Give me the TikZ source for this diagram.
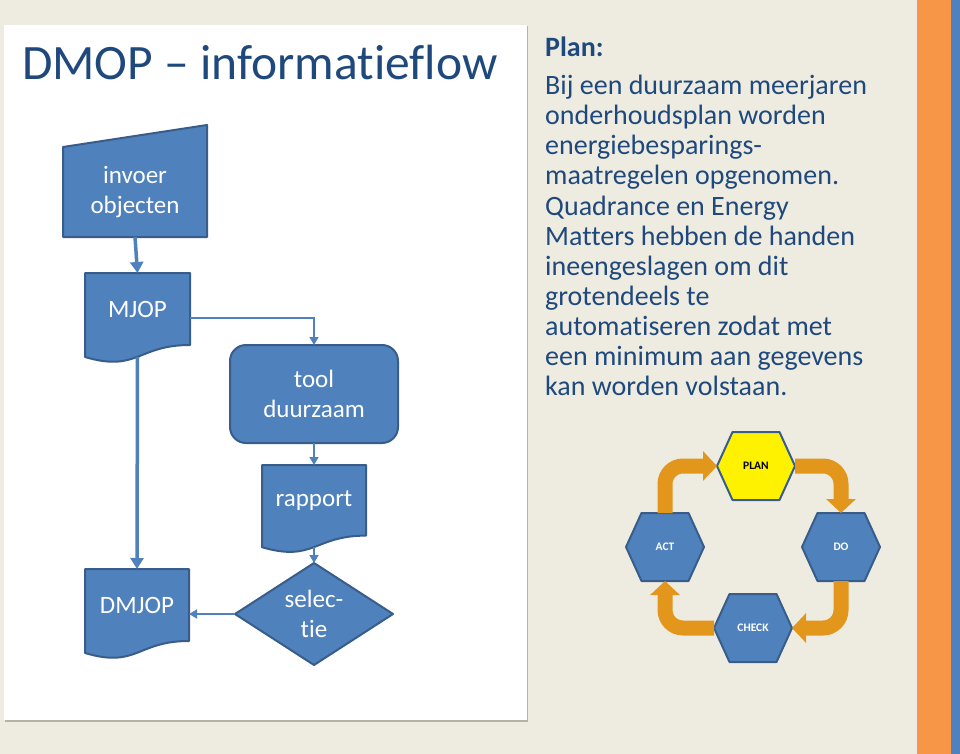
\documentclass[tikz,border=0pt]{standalone}
\usepackage{fontspec}
\setmainfont{Carlito}[Ligatures={NoCommon}]
\usetikzlibrary{arrows.meta,backgrounds,calc}
\definecolor{bgc}{HTML}{EEECE1}
\definecolor{tblue}{HTML}{1F497D}
\definecolor{fblue}{HTML}{4F81BD}
\definecolor{dblue}{HTML}{385D8A}
\definecolor{orng}{HTML}{E3961C}
\definecolor{strip}{HTML}{F79646}
\definecolor{shadowc}{HTML}{B5B2A8}
\newcommand\docshape[3]{\path[shp] (#1.north west) -- (#1.north east) -- (#1.south east) .. controls (#1.south) and ([yshift=-#2]#1.south) .. ([yshift=-#3]#1.south west) -- cycle;}
\newcommand\hexshape[2]{\path[#2] (#1.west) -- ([xshift=-23.5pt]#1.north) -- ([xshift=23.5pt]#1.north) -- (#1.east) -- ([xshift=23.5pt]#1.south) -- ([xshift=-23.5pt]#1.south) -- cycle;}
\begin{document}
\begin{tikzpicture}[x=1pt,y=-1pt,
  shp/.style={fill=fblue,draw=dblue,line width=2pt,line join=round},
  ftxt/.style={text=white,font=\fontsize{25}{30}\selectfont,align=center,inner sep=0pt,outer sep=0pt},
  tconn/.style={draw=fblue,line width=3.5pt,-{Triangle[width=13pt,length=11pt]}},
  nconn/.style={draw=fblue,line width=1.5pt,-{Triangle[width=9pt,length=8pt]}},
  hexnode/.style={minimum width=78pt,minimum height=68pt,inner sep=0pt,outer sep=0pt,font=\bfseries\fontsize{11.5}{13}\selectfont},
  hexblue/.style={fill=fblue,draw=dblue,line width=2pt,line join=round},
  hexyellow/.style={fill=yellow,draw=dblue,line width=2pt,line join=round},
  pdca/.style={draw=orng,line width=15pt,rounded corners=18pt,-{Triangle[width=29pt,length=14pt]}},
  bodytxt/.style={anchor=base west,inner sep=0pt,text=tblue,font=\fontsize{28}{30}\selectfont}
]
\useasboundingbox (0,0) rectangle (960,754);
\begin{scope}[on background layer]
  \fill[bgc] (0,0) rectangle (960,754);
  \fill[strip] (917,0) rectangle (951,754);
  \fill[fblue] (951,0) rectangle (960,754);
  \fill[shadowc] (5,26) rectangle (528,721.5);
  \fill[white] (4,25) rectangle (527,720);
\end{scope}

% title
\node[anchor=base west,inner sep=0pt,text=tblue,font=\fontsize{49.5}{56}\selectfont] (title) at (22,80) {DMOP – informatieflow};

% right text
\node[bodytxt,font=\bfseries\fontsize{28}{30}\selectfont] (plan) at (545,57) {Plan:};
\foreach \t [count=\i] in {Bij een duurzaam meerjaren,onderhoudsplan worden,energiebesparings-,maatregelen opgenomen.,Quadrance en Energy,Matters hebben de handen,ineengeslagen om dit,grotendeels te,automatiseren zodat met,een minimum aan gegevens,kan worden volstaan.}
  \node[bodytxt] (line\i) at (545,{95+30*(\i-1)}) {\t};

% flowchart nodes
\node[ftxt,minimum width=144pt,minimum height=90pt] (inv) at (135,192) {invoer\\objecten};
\node[ftxt,minimum width=105pt,minimum height=72pt] (mjop) at (137.5,309) {MJOP};
\node[ftxt,shp,rounded corners=16pt,minimum width=168pt,minimum height=98pt] (tool) at (314,394) {tool\\duurzaam};
\node[ftxt,minimum width=104pt,minimum height=70.6pt] (rapport) at (314,500.3) {rapport};
\node[ftxt,minimum width=158pt,minimum height=102pt] (sel) at (314,614) {selec-\\tie};
\node[ftxt,minimum width=104pt,minimum height=72pt] (dmjop) at (137,605) {DMJOP};

\begin{scope}[on background layer]
  \path[shp] (inv.south west) -- (inv.north west) -- ([yshift=22pt]inv.north east) -- (inv.south east) -- cycle;
  \docshape{mjop}{27.5pt}{12pt}
  \docshape{rapport}{26.8pt}{11.6pt}
  \docshape{dmjop}{27.5pt}{12pt}
  \path[shp] (sel.north) -- (sel.east) -- (sel.south) -- (sel.west) -- cycle;
\end{scope}

% flowchart connectors
\draw[tconn] (inv.south) -- (mjop.north);
\draw[nconn] ([yshift=-9pt]mjop.east) -| (tool.north);
\draw[tconn] ([yshift=-12pt]mjop.south) -- (dmjop.north);
\draw[nconn] (tool.south) -- (rapport.north);
\draw[nconn] ([yshift=-11pt]rapport.south) -- (sel.north);
\draw[nconn] (sel.west) -- (sel.west -| dmjop.east);

% PDCA
\node[hexnode,text=black] (pl) at (756,466) {PLAN};
\node[hexnode,text=white] (act) at (665,547) {ACT};
\node[hexnode,text=white] (do) at (841,547) {DO};
\node[hexnode,text=white] (chk) at (753,628) {CHECK};
\begin{scope}[on background layer]
  \hexshape{pl}{hexyellow}
  \hexshape{act}{hexblue}
  \hexshape{do}{hexblue}
  \hexshape{chk}{hexblue}
\end{scope}
\draw[pdca] (act.north) |- (pl.west);
\draw[pdca] (pl.east) -| (do.north);
\draw[pdca] (do.south) |- (chk.east);
\draw[pdca] (chk.west) -| (act.south);
\end{tikzpicture}
\end{document}
